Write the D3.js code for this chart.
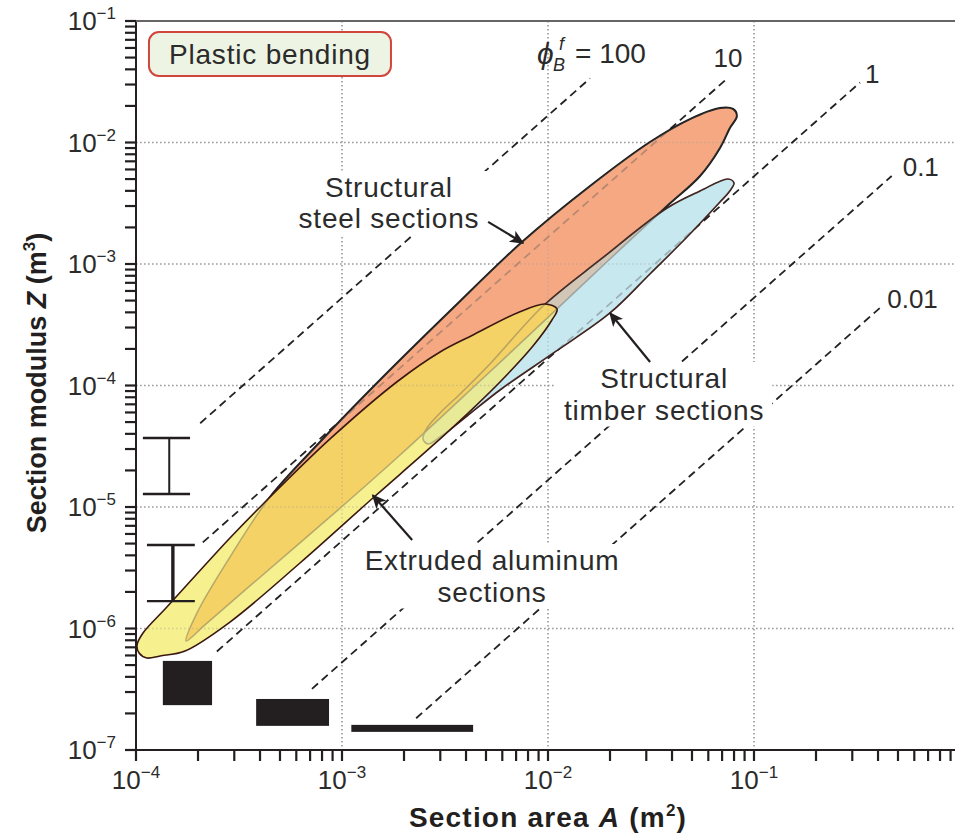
<!DOCTYPE html>
<html>
<head>
<meta charset="utf-8">
<script src="https://cdn.jsdelivr.net/npm/d3@7"></script>
<style>
  body { margin: 0; background: #fff; }
  svg { display: block; font-family: "Liberation Sans", Arial, Helvetica, sans-serif; }
</style>
</head>
<body>
<div id="chart"></div>
<script>
// ---- data ----
const xTickExp = [-4, -3, -2, -1];
const yTickExp = [-7, -6, -5, -4, -3, -2, -1];

// shape-factor guide lines  Z = phi * A^1.5 / 6
const phiValues = [100, 10, 1, 0.1, 0.01];
const phiLabels = ["100", "10", "1", "0.1", "0.01"];
const phiStartA = [2.05e-4, 2.11e-4, 2.47e-4, 7.15e-4, 2.29e-3];
const phiEndA = [0.016, 0.074, 0.327, 0.466, 0.41];

// material envelopes, [log10 A, log10 Z]
const steelOutline = [
  [-1.083, -1.782], [-1.117, -1.881], [-1.165, -2.045], [-1.262, -2.276], [-1.422, -2.523],
  [-1.699, -2.959], [-1.956, -3.370], [-2.330, -3.963], [-2.718, -4.572], [-3.058, -5.082],
  [-3.447, -5.650], [-3.665, -5.971], [-3.757, -6.103], [-3.704, -5.872], [-3.544, -5.412],
  [-3.350, -4.918], [-3.107, -4.465], [-2.816, -3.955], [-2.476, -3.387], [-2.121, -2.811],
  [-1.796, -2.358], [-1.505, -1.996], [-1.311, -1.807], [-1.165, -1.716], [-1.102, -1.724]
];
const timberOutline = [
  [-1.097, -2.333], [-1.121, -2.407], [-1.165, -2.490], [-1.325, -2.778], [-1.505, -3.082],
  [-1.699, -3.403], [-1.966, -3.724], [-2.233, -4.037], [-2.393, -4.251], [-2.524, -4.424],
  [-2.583, -4.481], [-2.607, -4.440], [-2.587, -4.350], [-2.524, -4.226], [-2.427, -4.070],
  [-2.282, -3.823], [-2.024, -3.346], [-1.748, -2.967], [-1.422, -2.539], [-1.262, -2.399],
  [-1.126, -2.300]
];
const aluminumOutline = [
  [-1.956, -3.370], [-1.981, -3.461], [-2.073, -3.675], [-2.233, -3.971], [-2.393, -4.235],
  [-2.573, -4.514], [-2.850, -4.926], [-3.204, -5.461], [-3.544, -5.947], [-3.762, -6.185],
  [-3.883, -6.226], [-3.947, -6.243], [-3.985, -6.202], [-3.995, -6.136], [-3.966, -6.037],
  [-3.850, -5.823], [-3.544, -5.255], [-3.383, -4.975], [-3.058, -4.440], [-2.728, -3.963],
  [-2.524, -3.724], [-2.364, -3.584], [-2.150, -3.403], [-2.015, -3.329]
];

// callouts: label anchor (A, Z), arrow from/to (A, Z)
const calloutLines = [["Structural", "steel sections"], ["Structural", "timber sections"], ["Extruded aluminum", "sections"]];
const calloutAnchor = [[1.69e-3, 3.56e-3], [0.0366, 9.53e-5], [5.35e-3, 3.03e-6]];
const arrowFrom = [[5.12e-3, 2.22e-3], [0.0313, 1.56e-4], [2.19e-3, 5.35e-6]];
const arrowTo = [[7.57e-3, 1.49e-3], [0.0200, 3.95e-4], [1.41e-3, 1.25e-5]];

// section icons: I-beams [A left, A web, A right, Z top, Z bottom], solid bars [A0, A1, Z0, Z1]
const iBeams = [[1.08e-4, 1.45e-4, 1.83e-4, 3.70e-5, 1.28e-5], [1.13e-4, 1.51e-4, 1.93e-4, 4.86e-6, 1.68e-6]];
const solidBars = [[1.35e-4, 2.34e-4, 5.41e-7, 2.34e-7], [3.83e-4, 8.65e-4, 2.63e-7, 1.58e-7], [1.11e-3, 4.33e-3, 1.61e-7, 1.41e-7]];

// ---- chart ----
const width = 955, height = 834;
const mLeft = 136, mRight = 960, mTop = 21, mBottom = 750;

const svg = d3.select("#chart").append("svg")
    .attr("width", width)
    .attr("height", height);

const x = d3.scaleLog().domain([1e-4, 1]).range([mLeft, mRight]);
const y = d3.scaleLog().domain([1e-7, 1e-1]).range([mBottom, mTop]);

const px = p => [x(Math.pow(10, p[0])), y(Math.pow(10, p[1]))];
const outline = d3.line().curve(d3.curveCatmullRomClosed.alpha(0.5));
const steelPath = outline(steelOutline.map(px));
const timberPath = outline(timberOutline.map(px));
const aluPath = outline(aluminumOutline.map(px));

const defs = svg.append("defs");
defs.append("clipPath").attr("id", "plot").append("rect")
    .attr("x", mLeft).attr("y", mTop).attr("width", width - mLeft).attr("height", mBottom - mTop);
defs.append("clipPath").attr("id", "clipSteel").append("path").attr("d", steelPath);
defs.append("clipPath").attr("id", "clipTimber").append("path").attr("d", timberPath);
const clipAll = defs.append("clipPath").attr("id", "clipAll");
[steelPath, timberPath, aluPath].forEach(d => clipAll.append("path").attr("d", d));

const plot = svg.append("g").attr("clip-path", "url(#plot)");

// grid + guide lines (drawn twice: under the shapes, and faintly through them)
function drawGuides(g, ghost) {
    const grid = g.append("g")
        .attr("stroke", "#9a9a9a")
        .attr("stroke-width", 1.6)
        .attr("stroke-dasharray", "1.6,2.4");
    xTickExp.slice(1).forEach(e => {
        grid.append("line").attr("x1", x(Math.pow(10, e))).attr("x2", x(Math.pow(10, e)))
            .attr("y1", mTop).attr("y2", mBottom);
    });
    yTickExp.slice(1, -1).forEach(e => {
        grid.append("line").attr("x1", mLeft).attr("x2", width)
            .attr("y1", y(Math.pow(10, e))).attr("y2", y(Math.pow(10, e)));
    });
    const guides = g.append("g")
        .attr("stroke", ghost ? "#555" : "#222")
        .attr("stroke-width", 1.8)
        .attr("stroke-dasharray", "8,5")
        .attr("fill", "none");
    phiValues.forEach((phi, i) => {
        const zOf = a => phi * Math.pow(a, 1.5) / 6;
        guides.append("line")
            .attr("x1", x(phiStartA[i])).attr("y1", y(zOf(phiStartA[i])))
            .attr("x2", x(phiEndA[i])).attr("y2", y(zOf(phiEndA[i])));
    });
}
drawGuides(plot.append("g"), false);

// steel
plot.append("path").attr("d", steelPath).attr("fill", "#F6A983")
    .attr("stroke", "#1a1a1a").attr("stroke-width", 2);
// timber
plot.append("path").attr("d", timberPath).attr("fill", "#C9E8F0");
plot.append("path").attr("d", timberPath).attr("fill", "#D2C7B6").attr("clip-path", "url(#clipSteel)");
plot.append("path").attr("d", timberPath).attr("fill", "none")
    .attr("stroke", "#3b1812").attr("stroke-width", 1.6);
// aluminum
plot.append("path").attr("d", aluPath).attr("fill", "#F6F08E");
plot.append("path").attr("d", aluPath).attr("fill", "#E8EA98").attr("clip-path", "url(#clipTimber)");
plot.append("path").attr("d", aluPath).attr("fill", "#F5D266").attr("clip-path", "url(#clipSteel)");

// see-through layer: hidden edges, grid and guides
const ghost = plot.append("g").attr("clip-path", "url(#clipAll)").attr("opacity", 0.38);
drawGuides(ghost, true);
ghost.append("path").attr("d", steelPath).attr("fill", "none").attr("stroke", "#555").attr("stroke-width", 1.6);
ghost.append("path").attr("d", timberPath).attr("fill", "none").attr("stroke", "#555").attr("stroke-width", 1.6);

plot.append("path").attr("d", aluPath).attr("fill", "none")
    .attr("stroke", "#3b1812").attr("stroke-width", 1.6);

// section icons
iBeams.forEach((b, i) => {
    const g = plot.append("g").attr("stroke", "#231f20").attr("fill", "none");
    g.append("line").attr("x1", x(b[0])).attr("x2", x(b[2])).attr("y1", y(b[3])).attr("y2", y(b[3])).attr("stroke-width", 2.4);
    g.append("line").attr("x1", x(b[0])).attr("x2", x(b[2])).attr("y1", y(b[4])).attr("y2", y(b[4])).attr("stroke-width", 2.4);
    g.append("line").attr("x1", x(b[1])).attr("x2", x(b[1])).attr("y1", y(b[3])).attr("y2", y(b[4])).attr("stroke-width", i === 0 ? 2 : 3.4);
});
solidBars.forEach(r => {
    plot.append("rect")
        .attr("x", x(r[0])).attr("width", x(r[1]) - x(r[0]))
        .attr("y", y(r[2])).attr("height", y(r[3]) - y(r[2]))
        .attr("fill", "#231f20");
});

// callouts
defs.append("marker").attr("id", "head")
    .attr("viewBox", "0 0 10 10").attr("refX", 9).attr("refY", 5)
    .attr("markerWidth", 6.5).attr("markerHeight", 6.5).attr("markerUnits", "strokeWidth")
    .attr("orient", "auto")
    .append("path").attr("d", "M0,0.5 L10,5 L0,9.5 L2.5,5 Z").attr("fill", "#231f20");

calloutLines.forEach((lines, i) => {
    const cx = x(calloutAnchor[i][0]), cy = y(calloutAnchor[i][1]);
    const g = svg.append("g");
    const t = g.append("text")
        .attr("text-anchor", "middle")
        .attr("font-size", 28)
        .attr("letter-spacing", 0.8)
        .attr("fill", "#2b2b2b");
    lines.forEach((s, k) => {
        t.append("tspan").attr("x", cx).attr("y", cy + k * 31.5).text(s);
    });
    const bb = t.node().getBBox();
    g.insert("rect", "text")
        .attr("x", bb.x - 8).attr("y", bb.y - 1)
        .attr("width", bb.width + 16).attr("height", bb.height + 2)
        .attr("fill", "#fff");
    svg.append("line")
        .attr("x1", x(arrowFrom[i][0])).attr("y1", y(arrowFrom[i][1]))
        .attr("x2", x(arrowTo[i][0])).attr("y2", y(arrowTo[i][1]))
        .attr("stroke", "#231f20").attr("stroke-width", 2.2)
        .attr("marker-end", "url(#head)");
});

// guide labels
const labelOffset = [[0, 0], [1, -12], [5, 0], [11, 0], [7, 0]];
phiValues.forEach((phi, i) => {
    const ex = x(phiEndA[i]), ey = y(phi * Math.pow(phiEndA[i], 1.5) / 6);
    if (i === 0) {
        const g = svg.append("g").attr("fill", "#2b2b2b");
        g.append("text").attr("x", ex - 53).attr("y", ey - 14).attr("font-size", 30)
            .attr("font-style", "italic").text("\u03d5");
        g.append("text").attr("x", ex - 37).attr("y", ey - 7).attr("font-size", 18)
            .attr("font-style", "italic").text("B");
        g.append("text").attr("x", ex - 31).attr("y", ey - 28).attr("font-size", 18)
            .attr("font-style", "italic").text("f");
        g.append("text").attr("x", ex - 15).attr("y", ey - 15).attr("font-size", 28)
            .text("= " + phiLabels[i]);
    } else {
        svg.append("text")
            .attr("x", ex + labelOffset[i][0]).attr("y", ey + labelOffset[i][1])
            .attr("text-anchor", i === 1 ? "middle" : "start")
            .attr("font-size", 26).attr("fill", "#2b2b2b")
            .text(phiLabels[i]);
    }
});

// plastic bending tag
const tag = svg.append("g");
tag.append("rect").attr("x", x(4.47e-4) - 121).attr("y", y(0.0535) - 22)
    .attr("width", 242).attr("height", 44).attr("rx", 10)
    .attr("fill", "#EEF4E3").attr("stroke", "#D0463B").attr("stroke-width", 2);
tag.append("text").attr("x", x(4.47e-4)).attr("y", y(0.0535) + 10)
    .attr("text-anchor", "middle").attr("font-size", 28).attr("letter-spacing", 0.8)
    .attr("fill", "#2b2b2b")
    .text("Plastic bending");

// axes
const xMinor = [], yMinor = [];
for (let e = -4; e < 0; e++) for (let m = 1; m < 10; m++) xMinor.push(m * Math.pow(10, e));
xMinor.push(1);
for (let e = -7; e < -1; e++) for (let m = 1; m < 10; m++) yMinor.push(m * Math.pow(10, e));
yMinor.push(0.1);

const axes = svg.append("g").attr("stroke", "#231f20");
xMinor.forEach(v => {
    axes.append("line").attr("x1", x(v)).attr("x2", x(v)).attr("y1", mBottom).attr("y2", mBottom + 11)
        .attr("stroke-width", 2.2);
});
yMinor.forEach(v => {
    axes.append("line").attr("x1", mLeft - 11).attr("x2", mLeft).attr("y1", y(v)).attr("y2", y(v))
        .attr("stroke-width", 2.2);
});
axes.append("line").attr("x1", mLeft).attr("x2", width).attr("y1", mBottom).attr("y2", mBottom).attr("stroke-width", 2);
axes.append("line").attr("x1", mLeft).attr("x2", mLeft).attr("y1", mTop).attr("y2", mBottom).attr("stroke-width", 2);
axes.append("line").attr("x1", mLeft).attr("x2", width).attr("y1", mTop).attr("y2", mTop)
    .attr("stroke", "#666").attr("stroke-width", 2);

function powerLabel(sel, e) {
    sel.append("tspan").text("10");
    sel.append("tspan").attr("font-size", 17).attr("dy", -11).text("\u2212" + (-e));
}
xTickExp.forEach(e => {
    const t = svg.append("text").attr("x", x(Math.pow(10, e))).attr("y", 789)
        .attr("text-anchor", "middle").attr("font-size", 26).attr("fill", "#2b2b2b");
    powerLabel(t, e);
});
yTickExp.forEach(e => {
    const t = svg.append("text").attr("x", 116).attr("y", y(Math.pow(10, e)) + 9)
        .attr("text-anchor", "end").attr("font-size", 26).attr("fill", "#2b2b2b");
    powerLabel(t, e);
});

// axis titles
const xt = svg.append("text").attr("x", 548).attr("y", 827).attr("text-anchor", "middle")
    .attr("font-size", 28).attr("letter-spacing", 1.2).attr("font-weight", "bold").attr("fill", "#231f20");
xt.append("tspan").text("Section area ");
xt.append("tspan").attr("font-style", "italic").text("A");
xt.append("tspan").text(" (m");
xt.append("tspan").attr("font-size", 17).attr("dy", -11).text("2");
xt.append("tspan").attr("dy", 11).text(")");

const yt = svg.append("text").attr("transform", "translate(46,383) rotate(-90)")
    .attr("text-anchor", "middle")
    .attr("font-size", 27).attr("font-weight", "bold").attr("fill", "#231f20");
yt.append("tspan").text("Section modulus ");
yt.append("tspan").attr("font-style", "italic").text("Z");
yt.append("tspan").text(" (m");
yt.append("tspan").attr("font-size", 17).attr("dy", -11).text("3");
yt.append("tspan").attr("dy", 11).text(")");
</script>
</body>
</html>
